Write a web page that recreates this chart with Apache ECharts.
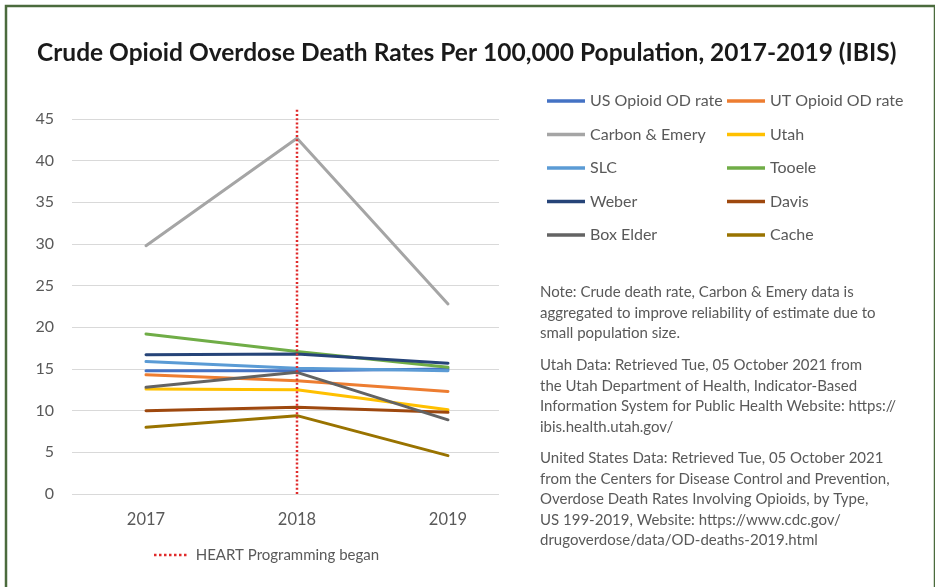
<!DOCTYPE html>
<html>
<head>
<meta charset="utf-8">
<script src="https://cdn.jsdelivr.net/npm/echarts@6/dist/echarts.min.js"></script>
<style>html,body{margin:0;padding:0;background:#fff;}#c{width:935px;height:587px;}</style>
</head>
<body>
<div id="c"></div>
<script>
const years = ['2017', '2018', '2019'];
const seriesNames = ['US Opioid OD rate', 'UT Opioid OD rate', 'Carbon & Emery', 'Utah', 'SLC', 'Tooele', 'Weber', 'Davis', 'Box Elder', 'Cache'];
const usRate = [14.8, 14.8, 15.0];
const utRate = [14.3, 13.6, 12.3];
const carbonEmery = [29.8, 42.7, 22.8];
const utah = [12.6, 12.5, 10.1];
const slc = [15.9, 15.1, 14.8];
const tooele = [19.2, 17.1, 15.2];
const weber = [16.7, 16.8, 15.7];
const davis = [10.0, 10.4, 9.8];
const boxElder = [12.8, 14.6, 8.9];
const cache = [8.0, 9.4, 4.6];
const seriesValues = [usRate, utRate, carbonEmery, utah, slc, tooele, weber, davis, boxElder, cache];
const colors = ['#4472C4', '#ED7D31', '#A5A5A5', '#FFC000', '#5B9BD5', '#70AD47', '#264478', '#9E480E', '#636363', '#997300'];
const heartYear = '2018';
const heartName = 'HEART Programming began';
const yTicks = {min: 0, max: 45, interval: 5};
const notes = [
  'Note: Crude death rate, Carbon & Emery data is\naggregated to improve reliability of estimate due to\nsmall population size.',
  'Utah Data: Retrieved Tue, 05 October 2021 from\nthe Utah Department of Health, Indicator-Based\nInformation System for Public Health Website: https://\nibis.health.utah.gov/',
  'United States Data: Retrieved Tue, 05 October 2021\nfrom the Centers for Disease Control and Prevention,\nOverdose Death Rates Involving Opioids, by Type,\nUS 199-2019, Website: https://www.cdc.gov/\ndrugoverdose/data/OD-deaths-2019.html'
];
const title = 'Crude Opioid Overdose Death Rates Per 100,000 Population, 2017-2019 (IBIS)';

const FONT = 'Lato, "Open Sans", sans-serif';
const GRAY = '#595959';

const chart = echarts.init(document.getElementById('c'), null, {renderer: 'canvas'});

const lineSeries = seriesNames.map((n, i) => ({
  name: n,
  type: 'line',
  xAxisIndex: 0,
  yAxisIndex: 0,
  data: seriesValues[i],
  symbol: 'none',
  smooth: false,
  lineStyle: {width: 3, color: colors[i], cap: 'round'},
  itemStyle: {color: colors[i]},
  z: 3 + i * 0.01
}));

lineSeries.push({
  name: heartName,
  type: 'line',
  xAxisIndex: 2,
  yAxisIndex: 2,
  data: [[heartYear, 0], [heartYear, 1]],
  symbol: 'none',
  lineStyle: {width: 2.5, color: '#E02B2B', type: [2, 2.2]},
  itemStyle: {color: '#E02B2B'},
  z: 5
});

const legendBase = {
  orient: 'vertical',
  icon: 'rect',
  itemWidth: 38,
  itemHeight: 3.5,
  itemGap: 13.5,
  textStyle: {fontFamily: FONT, fontSize: 16, color: GRAY, lineHeight: 20},
  selectedMode: false,
  padding: 0
};

const option = {
  animation: false,
  backgroundColor: '#ffffff',
  color: colors,
  title: {
    text: title,
    left: 37,
    top: 41,
    padding: 0,
    textStyle: {fontFamily: FONT, fontWeight: 'bold', fontSize: 24.5, color: '#1a1a1a'}
  },
  legend: [
    Object.assign({}, legendBase, {left: 547, top: 91, data: [seriesNames[0], seriesNames[2], seriesNames[4], seriesNames[6], seriesNames[8]]}),
    Object.assign({}, legendBase, {left: 727, top: 91, data: [seriesNames[1], seriesNames[3], seriesNames[5], seriesNames[7], seriesNames[9]]}),
    {
      orient: 'horizontal',
      left: 154,
      top: 545,
      padding: 0,
      selectedMode: false,
      itemWidth: 41,
      itemHeight: 2.5,
      icon: 'path://M0,0h3v3h-3z M6,0h3v3h-3z M12,0h3v3h-3z M18,0h3v3h-3z M24,0h3v3h-3z M30,0h3v3h-3z M36,0h3v3h-3z',
      textStyle: {fontFamily: FONT, fontSize: 15, color: GRAY, lineHeight: 20},
      data: [heartName]
    }
  ],
  grid: [
    {left: 70.5, width: 453, top: 119, bottom: 93},
    {left: 72, width: 427, top: 119, bottom: 93},
    {left: 70.5, width: 453, top: 108, bottom: 93}
  ],
  xAxis: [
    {type: 'category', gridIndex: 0, data: years, boundaryGap: true,
     axisLine: {show: false}, axisTick: {show: false}, splitLine: {show: false},
     axisLabel: {fontFamily: FONT, fontSize: 16.5, color: GRAY, margin: 17}},
    {type: 'category', gridIndex: 1, data: years, show: false},
    {type: 'category', gridIndex: 2, data: years, show: false}
  ],
  yAxis: [
    {type: 'value', gridIndex: 0, min: yTicks.min, max: yTicks.max, interval: yTicks.interval, show: false},
    {type: 'value', gridIndex: 1, min: yTicks.min, max: yTicks.max, interval: yTicks.interval,
     axisLine: {show: false}, axisTick: {show: false},
     splitLine: {show: true, lineStyle: {color: '#D9D9D9', width: 1}},
     axisLabel: {fontFamily: FONT, fontSize: 16, color: GRAY, margin: 18}},
    {type: 'value', gridIndex: 2, min: 0, max: 1, show: false}
  ],
  series: lineSeries,
  graphic: [
    {type: 'rect', shape: {x: 6, y: 6, width: 929, height: 600}, style: {fill: 'none', stroke: '#4B6B3D', lineWidth: 2.5}, silent: true, z: 100},
    {type: 'text', x: 540, y: 282, style: {text: notes[0], font: '15px ' + FONT, fill: GRAY, lineHeight: 20.5, textVerticalAlign: 'top'}},
    {type: 'text', x: 540, y: 355, style: {text: notes[1], font: '15px ' + FONT, fill: GRAY, lineHeight: 20.5, textVerticalAlign: 'top'}},
    {type: 'text', x: 540, y: 448, style: {text: notes[2], font: '15px ' + FONT, fill: GRAY, lineHeight: 20.5, textVerticalAlign: 'top'}}
  ]
};
chart.setOption(option);
</script>
</body>
</html>
